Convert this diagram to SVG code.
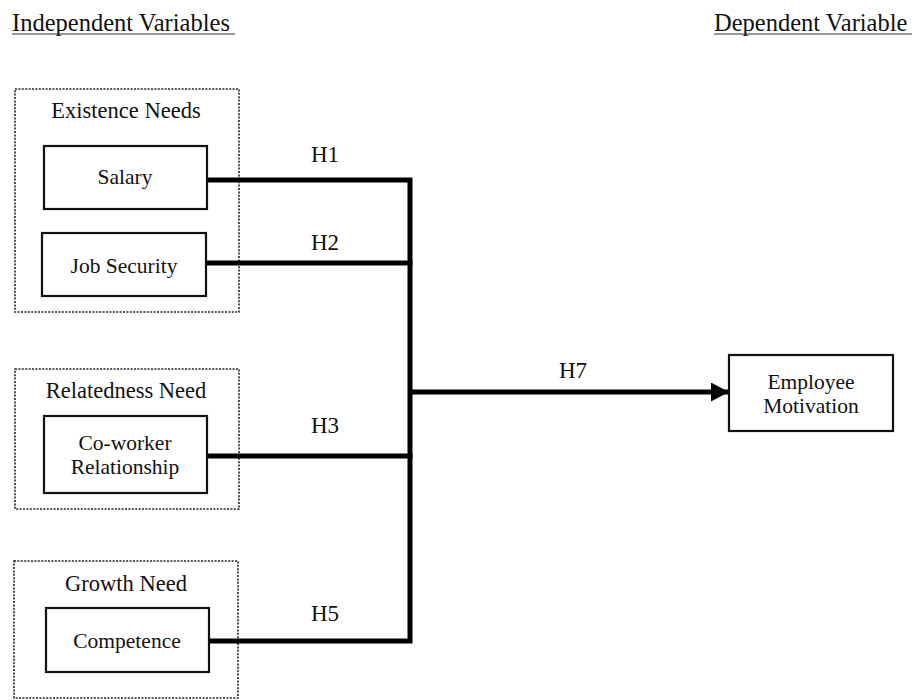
<svg xmlns="http://www.w3.org/2000/svg" width="919" height="700" viewBox="0 0 919 700">
<defs>
<style>
text{font-family:'Liberation Serif','Times New Roman','DejaVu Serif',serif;fill:#111;text-anchor:middle}
.hd{font-size:24.5px;text-anchor:start}
.grp{font-size:22.5px}
.lbl{font-size:21.5px}
.h{font-size:23px}
.dot{fill:none;stroke:#222;stroke-width:1.6;stroke-dasharray:2 1.4}
.box{fill:#fff;stroke:#111;stroke-width:2.2}
.con{fill:none;stroke:#000;stroke-width:5;stroke-linecap:square}
.ul{stroke:#333;stroke-width:1.2}
</style>
<marker id="ah" markerUnits="userSpaceOnUse" markerWidth="20" markerHeight="20" refX="18" refY="9.5" orient="auto">
<polygon points="0,0 18,9.5 0,19" fill="#000"/>
</marker>
</defs>
<rect width="919" height="700" fill="#fff"/>
<g id="headings" font-family="Liberation Serif, serif">
<text class="hd" x="12" y="31">Independent Variables</text>
<line class="ul" x1="12" y1="34" x2="235" y2="34"/>
<text class="hd" x="714" y="31">Dependent Variable</text>
<line class="ul" x1="714" y1="34" x2="912" y2="34"/>
</g>
<g id="existence-needs">
<rect class="dot" x="15" y="89" width="224" height="223"/>
<text class="grp" x="126" y="118">Existence Needs</text>
</g>
<g id="relatedness-need">
<rect class="dot" x="15" y="369" width="224" height="140"/>
<text class="grp" x="126" y="398">Relatedness Need</text>
</g>
<g id="growth-need">
<rect class="dot" x="14" y="561" width="224" height="137"/>
<text class="grp" x="126" y="591">Growth Need</text>
</g>
<g id="connectors">
<polyline class="con" points="207,180 410,180 410,641 209,641"/>
<line class="con" x1="206" y1="263" x2="410" y2="263"/>
<line class="con" x1="207" y1="456" x2="410" y2="456"/>
<line x1="410" y1="392" x2="729" y2="392" stroke="#000" stroke-width="5" marker-end="url(#ah)"/>
<text class="h" x="325" y="162">H1</text>
<text class="h" x="325" y="250">H2</text>
<text class="h" x="325" y="433">H3</text>
<text class="h" x="325" y="621">H5</text>
<text class="h" x="573" y="378">H7</text>
</g>
<g id="salary">
<rect class="box" x="44" y="146" width="163" height="63"/>
<text class="lbl" x="125" y="184">Salary</text>
</g>
<g id="job-security">
<rect class="box" x="42" y="233" width="164" height="63"/>
<text class="lbl" x="124" y="273">Job Security</text>
</g>
<g id="coworker-relationship">
<rect class="box" x="44" y="416" width="163" height="77"/>
<text class="lbl" x="125" y="450">Co-worker</text>
<text class="lbl" x="125" y="474">Relationship</text>
</g>
<g id="competence">
<rect class="box" x="46" y="608" width="163" height="64"/>
<text class="lbl" x="127" y="648">Competence</text>
</g>
<g id="employee-motivation">
<rect class="box" x="729" y="355" width="164" height="76"/>
<text class="lbl" x="811" y="389">Employee</text>
<text class="lbl" x="811" y="413">Motivation</text>
</g>
</svg>
